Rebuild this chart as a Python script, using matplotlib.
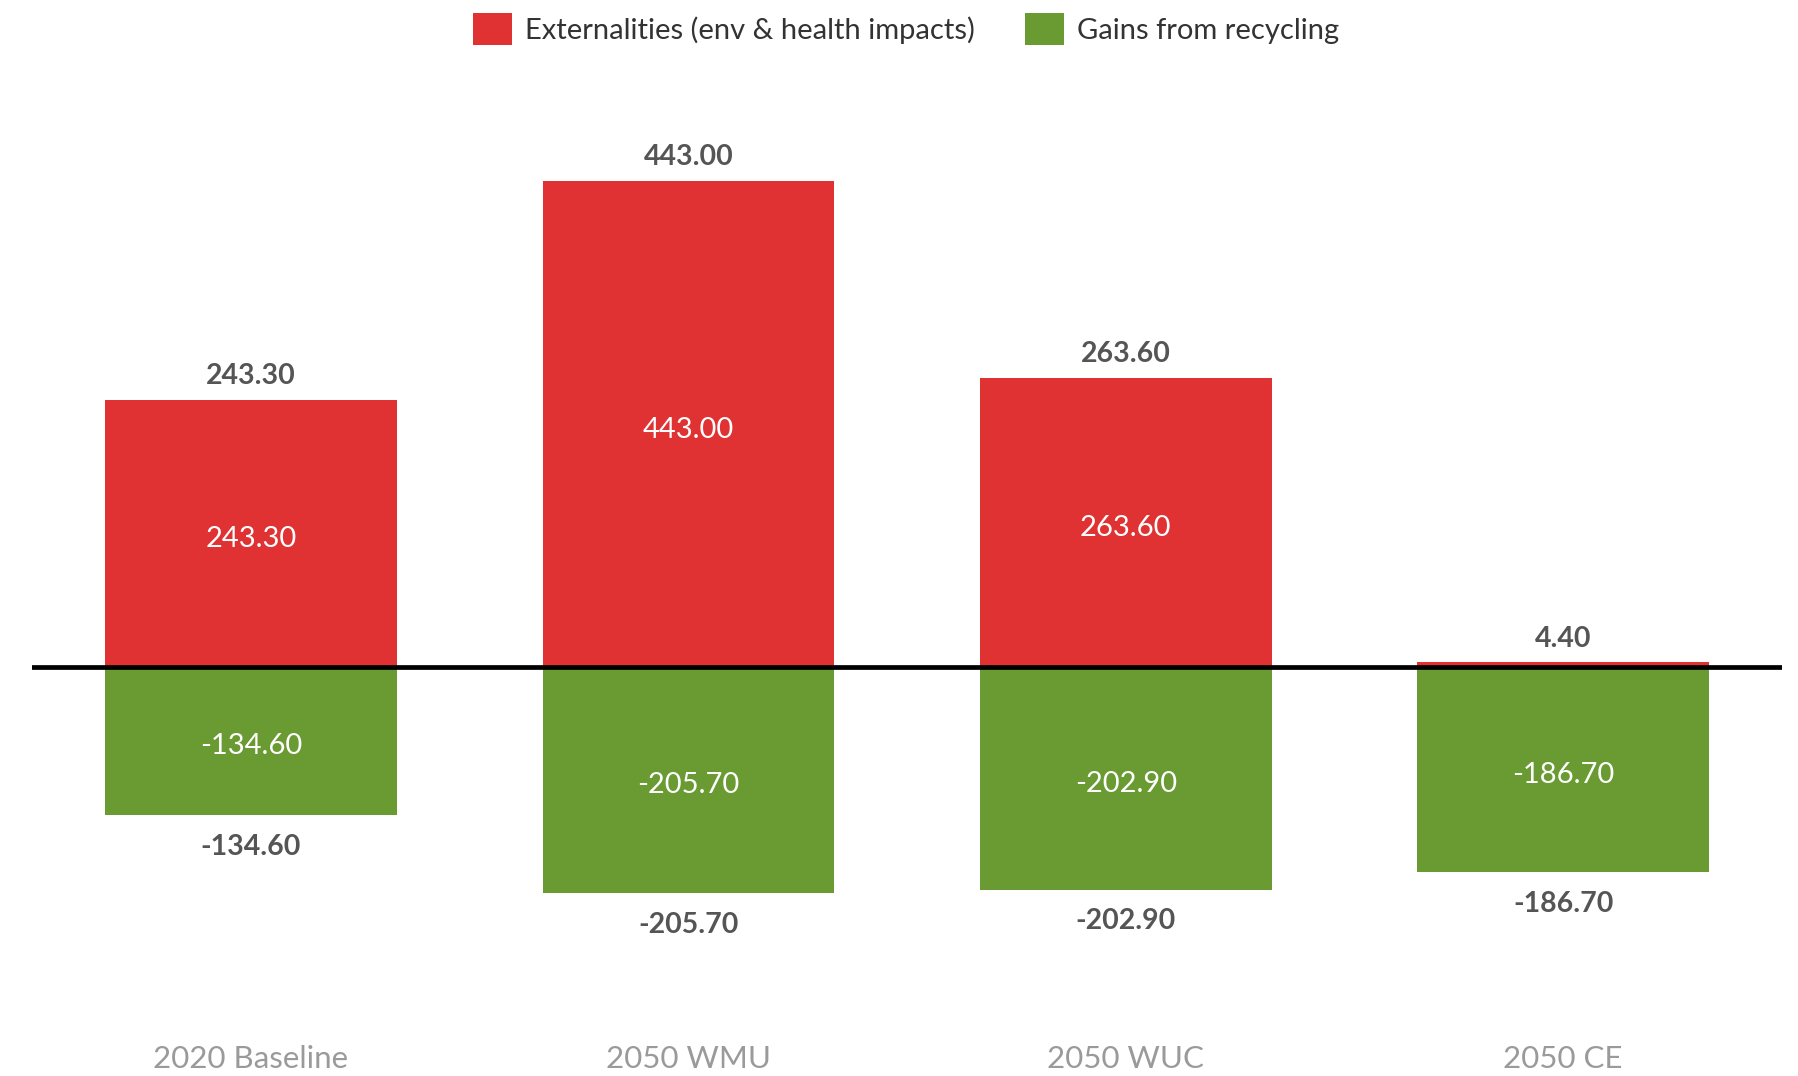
import matplotlib.pyplot as plt
import numpy as np

plt.rcParams['font.family'] = ['Lato', 'DejaVu Sans']

scenarios = ['2020 Baseline', '2050 WMU', '2050 WUC', '2050 CE']
externalities = [243.30, 443.00, 263.60, 4.40]
gains = [-134.60, -205.70, -202.90, -186.70]

red = '#E03232'
green = '#6A9A32'
label_grey = '#555555'
tick_grey = '#9A9A9A'

fig = plt.figure(figsize=(17.98, 10.76), dpi=100)
ax = fig.add_axes([0.018, 0.0743, 0.973, 0.8156])

x = np.arange(len(scenarios))
w = 0.667

b1 = ax.bar(x, externalities, w, color=red, label='Externalities (env & health impacts)', zorder=2)
b2 = ax.bar(x, gains, w, color=green, label='Gains from recycling', zorder=2)

ax.axhline(0, color='black', lw=3.4, zorder=3)

# labels outside and inside each bar
for xi, v in zip(x, externalities):
    ax.annotate(f'{v:.2f}', (xi, v), xytext=(0, 17), textcoords='offset points',
                ha='center', va='center', fontsize=20.5, fontweight='bold', color=label_grey)
    if v > 50:
        ax.annotate(f'{v:.2f}', (xi, v / 2), xytext=(0, -4), textcoords='offset points',
                    ha='center', va='center', fontsize=21, color='white', zorder=4)

for xi, v in zip(x, gains):
    ax.annotate(f'{v:.2f}', (xi, v), xytext=(0, -23), textcoords='offset points',
                ha='center', va='center', fontsize=20.5, fontweight='bold', color=label_grey)
    ax.annotate(f'{v:.2f}', (xi, v / 2), xytext=(0, -4), textcoords='offset points',
                ha='center', va='center', fontsize=21, color='white', zorder=4)

ax.set_xlim(-0.5, 3.5)
ax.set_ylim(-300, 500)
ax.set_xticks(x)
ax.set_xticklabels(scenarios, fontsize=22.5, color=tick_grey)
ax.tick_params(axis='x', length=0, pad=35)
ax.set_yticks([])
for s in ax.spines.values():
    s.set_visible(False)

fig.legend(handles=[b1, b2], loc='center', bbox_to_anchor=(0.504, 0.973), ncol=2,
           frameon=False, fontsize=21, handlelength=1.35, handleheight=1.35,
           handletextpad=0.45, columnspacing=1.7, labelcolor='#333333')

fig.savefig('out.png', dpi=100)
